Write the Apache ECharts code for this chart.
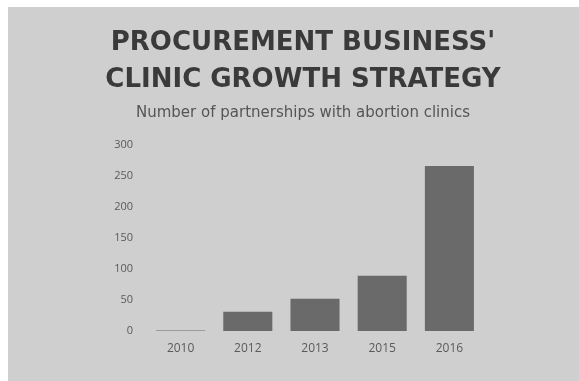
<!DOCTYPE html>
<html><head><meta charset="utf-8">
<script src="https://cdn.jsdelivr.net/npm/echarts@6/dist/echarts.min.js"></script>
<style>
html,body{margin:0;padding:0;background:#fff;width:579px;height:381px;overflow:hidden}
#c{position:absolute;left:8px;top:7px;width:571px;height:374px;background:#cfcfcf}
</style></head>
<body><div id="c"></div>
<script>
const categories = ['2010', '2012', '2013', '2015', '2016'];
const partnerships = [1, 31, 52, 89, 266];
const yTicks = [0, 50, 100, 150, 200, 250, 300];
const titleLines = ["PROCUREMENT BUSINESS'", 'CLINIC GROWTH STRATEGY'];
const subtitle = 'Number of partnerships with abortion clinics';

const chart = echarts.init(document.getElementById('c'), null, {renderer: 'canvas'});
chart.setOption({
  backgroundColor: 'transparent',
  animation: false,
  title: [{
    text: titleLines.join('\n'),
    left: 290,
    textAlign: 'center',
    top: 13,
    textStyle: {fontFamily: 'DejaVu Sans', fontWeight: 'bold', fontSize: 26, color: '#3a3a3a', lineHeight: 37}
  }, {
    text: subtitle,
    left: 290,
    textAlign: 'center',
    top: 94,
    textStyle: {fontFamily: 'DejaVu Sans', fontWeight: 'normal', fontSize: 15, color: '#555'}
  }],
  grid: {left: 139, right: 96, top: 138, bottom: 50},
  xAxis: {
    type: 'category',
    data: categories,
    axisLine: {show: false},
    axisTick: {show: false},
    axisLabel: {color: '#5a5a5a', fontFamily: 'Open Sans', fontSize: 12, margin: 12}
  },
  yAxis: {
    type: 'value',
    min: yTicks[0],
    max: yTicks[yTicks.length - 1],
    interval: 50,
    axisLine: {show: false},
    axisTick: {show: false},
    splitLine: {show: false},
    axisLabel: {color: '#5a5a5a', fontFamily: 'Open Sans', fontSize: 11, margin: 14}
  },
  series: [{
    type: 'bar',
    data: partnerships,
    barWidth: '73%',
    itemStyle: {color: '#6a6a6a'}
  }]
});
</script></body></html>
